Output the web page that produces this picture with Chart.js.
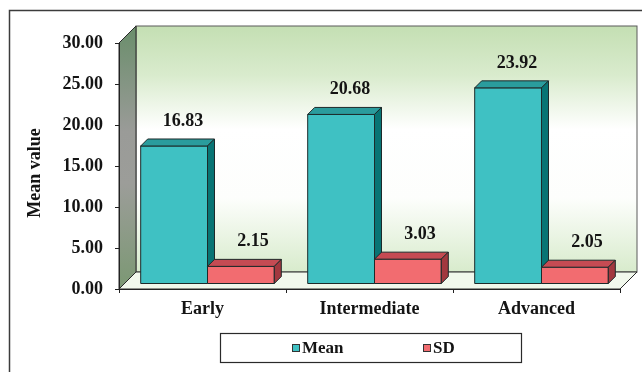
<!DOCTYPE html>
<html>
<head>
<meta charset="utf-8">
<script src="https://cdn.jsdelivr.net/npm/chart.js@4.4.1/dist/chart.umd.min.js"></script>
<style>
  html, body { margin: 0; padding: 0; background: #ffffff; }
  #wrap { width: 642px; height: 372px; position: relative; }
</style>
</head>
<body>
<div id="wrap"><canvas id="c" width="642" height="372"></canvas></div>
<script>
// Mean value and SD by stage
const categories = ['Early', 'Intermediate', 'Advanced'];
const seriesNames = ['Mean', 'SD'];
const meanValues = [16.83, 20.68, 23.92];
const sdValues = [2.15, 3.03, 2.05];
const yTicks = [0, 5, 10, 15, 20, 25, 30];
const axisTitle = 'Mean value';

const SERIF = '"Liberation Serif", "Times New Roman", serif';
const INK = '#141414';

// face colours for the boxed columns
const MEAN_FACES = { front: '#3fc1c3', top: '#2a9c9d', side: '#087474' };
const SD_FACES = { front: '#f26c70', top: '#c54b53', side: '#a2383f' };
const FACES = [MEAN_FACES, SD_FACES];

// depth of the walls, shift of the column plane and column depth (px)
const WALL = 17, SHIFT = 5, DEPTH = 7;

// legend strip under the category labels
const LEGEND_BOX = { x: 220.5, y: 333.5, w: 301, h: 29 };
const LEGEND_ITEM_X = [292, 423];

function drawBox(ctx, l, r, t, b, f) {
  ctx.lineWidth = 1;
  ctx.strokeStyle = '#1d2a2a';
  ctx.lineJoin = 'round';
  // front
  ctx.fillStyle = f.front;
  ctx.beginPath(); ctx.rect(l, t, r - l, b - t); ctx.fill(); ctx.stroke();
  // top
  ctx.fillStyle = f.top;
  ctx.beginPath();
  ctx.moveTo(l, t); ctx.lineTo(l + DEPTH, t - DEPTH); ctx.lineTo(r + DEPTH, t - DEPTH); ctx.lineTo(r, t);
  ctx.closePath(); ctx.fill(); ctx.stroke();
  // right side
  ctx.fillStyle = f.side;
  ctx.beginPath();
  ctx.moveTo(r, t); ctx.lineTo(r + DEPTH, t - DEPTH); ctx.lineTo(r + DEPTH, b - DEPTH); ctx.lineTo(r, b);
  ctx.closePath(); ctx.fill(); ctx.stroke();
}

const scene3d = {
  id: 'scene3d',
  beforeDraw(chart) {
    const { ctx, chartArea: a } = chart;
    const ys = chart.scales.y;
    const top = ys.getPixelForValue(ys.max);
    const base = ys.getPixelForValue(ys.min);
    const bx = a.left + WALL, bTop = top - WALL, bBot = base - WALL, bRight = a.right + WALL;
    ctx.save();
    ctx.fillStyle = '#ffffff';
    ctx.fillRect(0, 0, chart.width, chart.height);
    // outer frame
    ctx.strokeStyle = '#3c3c3c';
    ctx.lineWidth = 1.5;
    ctx.strokeRect(9.5, 10.5, 800, 500);

    // back wall
    const g = ctx.createLinearGradient(0, bTop, 0, bBot);
    g.addColorStop(0, '#c4dfb3');
    g.addColorStop(0.2, '#d9ebcd');
    g.addColorStop(0.42, '#ffffff');
    g.addColorStop(0.7, '#fdfefc');
    g.addColorStop(1, '#d8ebcc');
    ctx.fillStyle = g;
    ctx.fillRect(bx, bTop, bRight - bx, bBot - bTop);
    ctx.strokeStyle = '#5a5a5a';
    ctx.lineWidth = 1;
    ctx.strokeRect(bx, bTop, bRight - bx, bBot - bTop);

    // left side wall
    const sg = ctx.createLinearGradient(0, bTop, 0, base);
    sg.addColorStop(0, '#6a8e6b');
    sg.addColorStop(0.4, '#9a9b98');
    sg.addColorStop(0.6, '#9c9d99');
    sg.addColorStop(1, '#7b9873');
    ctx.fillStyle = sg;
    ctx.beginPath();
    ctx.moveTo(a.left, top); ctx.lineTo(bx, bTop); ctx.lineTo(bx, bBot); ctx.lineTo(a.left, base);
    ctx.closePath(); ctx.fill();
    ctx.strokeStyle = '#2a2a2a';
    ctx.stroke();

    // floor
    ctx.fillStyle = '#f1f8ec';
    ctx.beginPath();
    ctx.moveTo(a.left, base); ctx.lineTo(bx, bBot); ctx.lineTo(bRight, bBot); ctx.lineTo(a.right, base);
    ctx.closePath(); ctx.fill();
    ctx.strokeStyle = '#2a2a2a';
    ctx.stroke();
    ctx.restore();
  },
  afterDatasetsDraw(chart) {
    const ctx = chart.ctx;
    const metas = seriesNames.map((_, d) => chart.getDatasetMeta(d));
    ctx.save();
    for (let i = 0; i < categories.length; i++) {
      metas.forEach((m, d) => {
        const { x, y, base, width } = m.data[i].getProps(['x', 'y', 'base', 'width'], true);
        drawBox(ctx, x - width / 2 + SHIFT, x + width / 2 + SHIFT, y - SHIFT, base - SHIFT, FACES[d]);
      });
    }
    // value labels above each column
    ctx.fillStyle = INK;
    ctx.font = 'bold 18px ' + SERIF;
    ctx.textAlign = 'center';
    ctx.textBaseline = 'middle';
    metas.forEach((m, d) => {
      const vals = chart.data.datasets[d].data;
      m.data.forEach((el, i) => {
        const { x, y } = el.getProps(['x', 'y'], true);
        ctx.fillText(vals[i].toFixed(2), x + SHIFT + (d === 1 ? 12 : 9), y - SHIFT - 25);
      });
    });
    ctx.restore();
  },
  afterDraw(chart) {
    const ctx = chart.ctx;
    const ys = chart.scales.y;
    ctx.save();
    // value axis title, read bottom to top
    ctx.fillStyle = INK;
    ctx.font = 'bold 18px ' + SERIF;
    ctx.textAlign = 'center';
    ctx.textBaseline = 'middle';
    ctx.translate(35, (ys.top + ys.bottom) / 2 + 7);
    ctx.rotate(-Math.PI / 2);
    ctx.fillText(axisTitle, 0, 0);
    ctx.setTransform(1, 0, 0, 1, 0, 0);

    // framed legend
    const b = LEGEND_BOX;
    ctx.strokeStyle = '#2a2a2a';
    ctx.lineWidth = 1.2;
    ctx.strokeRect(b.x, b.y, b.w, b.h);
    const cy = b.y + b.h / 2;
    ctx.font = 'bold 17px ' + SERIF;
    ctx.textAlign = 'left';
    ctx.textBaseline = 'middle';
    chart.data.datasets.forEach((ds, d) => {
      const x = LEGEND_ITEM_X[d];
      ctx.fillStyle = FACES[d].front;
      ctx.fillRect(x, cy - 4, 8, 8);
      ctx.strokeStyle = '#333';
      ctx.lineWidth = 1;
      ctx.strokeRect(x + 0.5, cy - 3.5, 7, 7);
      ctx.fillStyle = INK;
      ctx.fillText(ds.label, x + 10, cy + 1);
    });
    ctx.restore();
  }
};

const chart = new Chart(document.getElementById('c'), {
  type: 'bar',
  data: {
    labels: categories,
    datasets: [
      { label: seriesNames[0], data: meanValues, backgroundColor: 'rgba(0,0,0,0)', borderWidth: 0 },
      { label: seriesNames[1], data: sdValues, backgroundColor: 'rgba(0,0,0,0)', borderWidth: 0 }
    ]
  },
  options: {
    responsive: false,
    animation: false,
    events: [],
    layout: { padding: { left: 10, top: 43, right: 22, bottom: 0 } },
    datasets: { bar: { categoryPercentage: 0.8, barPercentage: 1.0 } },
    scales: {
      x: {
        afterFit(scale) { scale.height = 83; },
        grid: { drawOnChartArea: false, drawTicks: true, tickLength: 4, color: '#222', offset: true },
        border: { display: true, color: '#222', width: 1 },
        ticks: { color: INK, padding: 6, font: { family: SERIF, size: 18, weight: 'bold' } }
      },
      y: {
        min: yTicks[0],
        max: yTicks[yTicks.length - 1],
        afterFit(scale) { scale.width = 109; },
        afterBuildTicks(scale) { scale.ticks = yTicks.map(v => ({ value: v })); },
        grid: { drawOnChartArea: false, drawTicks: true, tickLength: 4, color: '#222' },
        border: { display: true, color: '#222', width: 1 },
        ticks: {
          color: INK, padding: 12,
          font: { family: SERIF, size: 18, weight: 'bold' },
          callback: v => Number(v).toFixed(2)
        },
        title: { display: false }
      }
    },
    plugins: {
      tooltip: { enabled: false },
      legend: { display: false }
    }
  },
  plugins: [scene3d]
});
</script>
</body>
</html>
